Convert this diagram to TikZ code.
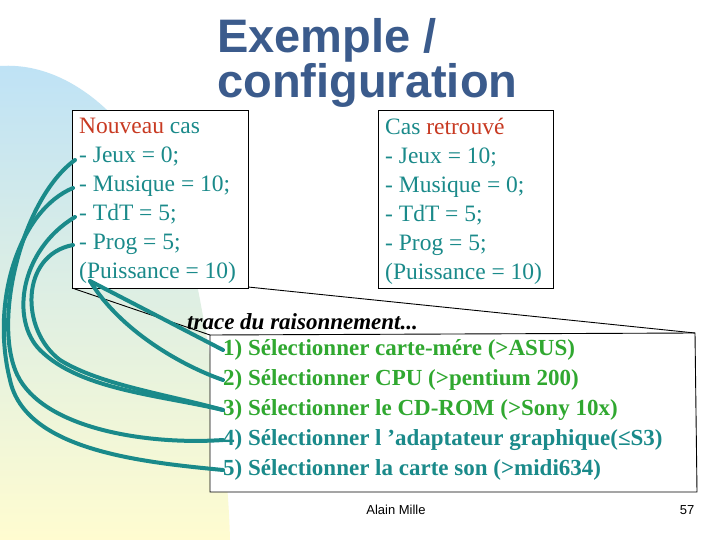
\documentclass[tikz,border=0pt]{standalone}
\usepackage{fontspec}
\setmainfont{Liberation Serif}
\newfontfamily\arialf{Liberation Sans}
\begin{document}
\begin{tikzpicture}[x=1pt,y=-1pt,
  txt/.style={anchor=north west,align=left,inner sep=0pt,font=\fontsize{23.5}{29}\selectfont,text=teal2},
  lst/.style={anchor=west,inner sep=0pt,font=\fontsize{23}{26}\selectfont\bfseries},
  conn/.style={draw=teal2,line width=4pt,line cap=round},
  frame/.style={draw=black,line width=0.9pt}]
\definecolor{teal2}{HTML}{1A8A8A}
\definecolor{grn}{HTML}{30A830}
\definecolor{red2}{HTML}{C83A22}
\definecolor{ttl}{HTML}{3B5B8C}
\definecolor{lblue}{HTML}{BEE2F6}
\definecolor{lyel}{HTML}{FFFCD0}
\useasboundingbox (0,0) rectangle (720,540);
\fill[white] (0,0) rectangle (720,540);
\shade[top color=lblue,bottom color=lyel] (0,66) .. controls (90,60) and (175,160) .. (200,300) .. controls (215,380) and (228,460) .. (230,540) -- (0,540) -- cycle;
\node[anchor=north west,inner sep=0pt,align=left,text=ttl,font=\arialf\bfseries\fontsize{47}{42}\selectfont] (title) at (217,18) {Exemple /\\configuration};
\draw[frame,fill=white] (72,110) rectangle (248,288);
\draw[frame,fill=white] (378,110) rectangle (553,288);
\coordinate (bl) at (72,288);
\coordinate (br) at (248,287);
\coordinate (p1) at (210,335);
\coordinate (p2) at (695,333);
\draw[frame,fill=white] (p1) -- (p2) -- (697,492) -- (210,492) -- cycle;
\draw[frame] (bl) -- (p1);
\draw[frame] (br) -- (p2);
\node[txt] (left) at (79,118) {\textcolor{red2}{Nouveau} cas\\- Jeux = 0;\\- Musique = 10;\\- TdT = 5;\\- Prog = 5;\\(Puissance = 10)};
\node[txt] (right) at (385,118) {Cas \textcolor{red2}{retrouvé}\\- Jeux = 10;\\- Musique = 0;\\- TdT = 5;\\- Prog = 5;\\(Puissance = 10)};
\node[lst,anchor=west,font=\fontsize{23}{26}\selectfont\bfseries\itshape] (tr) at (187,322) {trace du raisonnement...};
\node[lst,text=grn] (s1) at (223,350) {1) Sélectionner carte-mére (>ASUS)};
\node[lst,text=grn] (s2) at (223,380) {2) Sélectionner CPU (>pentium 200)};
\node[lst,text=grn] (s3) at (223,410) {3) Sélectionner le CD-ROM (>Sony 10x)};
\node[lst,text=teal2] (s4) at (223,440) {4) Sélectionner l ’adaptateur graphique(≤S3)};
\node[lst,text=teal2] (s5) at (223,470) {5) Sélectionner la carte son (>midi634)};
\coordinate (cj) at (75,160);
\coordinate (cm) at (73,188);
\coordinate (ct) at (75,217);
\coordinate (cp) at (73,245);
\coordinate (cu) at (90,281);
\draw[conn] (cj) .. controls (20,200) and (-10,330) .. (20,380) .. controls (50,430) and (150,445) .. (s4.west);
\draw[conn] (cm) .. controls (20,210) and (-10,300) .. (10,380) .. controls (25,450) and (140,462) .. (s5.west);
\draw[conn] (ct) .. controls (20,250) and (10,320) .. (40,350) .. controls (80,390) and (160,395) .. (s3.west);
\draw[conn] (cp) .. controls (20,255) and (20,330) .. (60,360) .. controls (100,385) and (170,395) .. (s3.west);
\draw[conn] (cu) -- (s1.west);
\draw[conn] (cu) .. controls (120,330) and (180,365) .. (s2.west);
\node[anchor=center,font=\arialf\fontsize{13}{15}\selectfont] (au) at (396,510) {Alain Mille};
\node[anchor=center,font=\arialf\fontsize{13}{15}\selectfont] (pg) at (687,510) {57};
\end{tikzpicture}
\end{document}
